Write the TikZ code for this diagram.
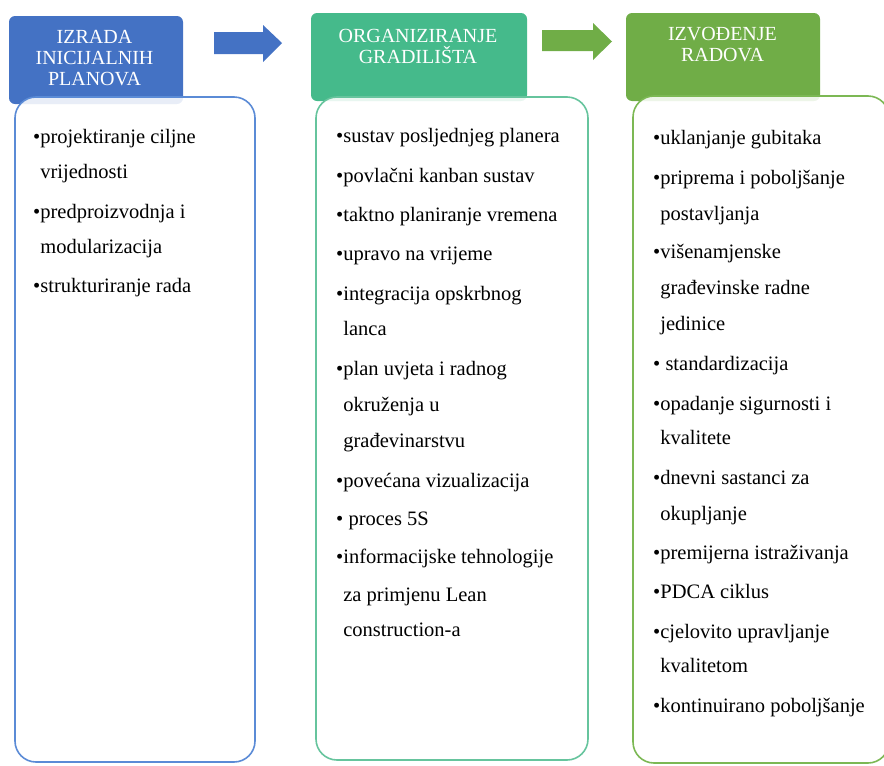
\documentclass[tikz,border=0pt]{standalone}
\usepackage{fontspec}
\setmainfont{Liberation Serif}
\definecolor{hdrblue}{HTML}{4472C4}
\definecolor{hdrteal}{HTML}{45BA8B}
\definecolor{hdrgreen}{HTML}{70AD47}
\definecolor{rimblue}{HTML}{5B8BD6}
\definecolor{rimteal}{HTML}{66C49D}
\definecolor{rimgreen}{HTML}{7CB854}
\tikzset{
  header/.style={rectangle, rounded corners=6pt, inner sep=0pt, draw=none},
  headtext/.style={anchor=north, inner sep=0pt, align=center, text=white,
    font=\fontsize{20}{21}\selectfont},
  bodybox/.style={rectangle, rounded corners=21pt, inner sep=0pt, fill=white,
    fill opacity=0.88, line width=1.6pt},
  item/.style={anchor=base west, inner sep=0pt, text=black,
    font=\fontsize{20.5}{24}\selectfont},
}
\begin{document}
\begin{tikzpicture}[x=1pt,y=-1pt]
\useasboundingbox (0,0) rectangle (884,766);
\clip (0,0) rectangle (884,766);

% phase headers
\node[header, fill=hdrblue, minimum width=174pt, minimum height=88pt] (h1) at (96,60) {};
\node[header, fill=hdrteal, minimum width=216pt, minimum height=88pt] (h2) at (419,57) {};
\node[header, fill=hdrgreen, minimum width=194pt, minimum height=88pt] (h3) at (723,57) {};

% block arrows between phases
\fill[hdrblue] (214,32) -- (263,32) -- (263,25) -- (282,43) -- (263,62) -- (263,54) -- (214,54) -- cycle;
\fill[hdrgreen] (542,30) -- (593,30) -- (593,23) -- (612,41.5) -- (593,60) -- (593,51) -- (542,51) -- cycle;

% content panels, laid over the lower edge of the headers
\node[bodybox, draw=rimblue, minimum width=240pt, minimum height=665pt] (p1) at (135,429.5) {};
\node[bodybox, draw=rimteal, minimum width=272pt, minimum height=663pt] (p2) at (452,428.5) {};
\node[bodybox, draw=rimgreen, minimum width=256pt, minimum height=667pt] (p3) at (761,429.5) {};

% header titles
\node[headtext] (t1) at (94.5,29.8) {IZRADA\\INICIJALNIH\\PLANOVA};
\node[headtext] (t2) at (418,28.8) {ORGANIZIRANJE\\GRADILIŠTA};
\node[headtext] (t3) at (722.5,27) {IZVOĐENJE\\RADOVA};

% first panel
\node[item] (a1) at (33,143) {•projektiranje ciljne};
\node[item] (a2) at (33,178) {\phantom{•}vrijednosti};
\node[item] (a3) at (33,218) {•predproizvodnja i};
\node[item] (a4) at (33,253) {\phantom{•}modularizacija};
\node[item] (a5) at (33,292) {•strukturiranje rada};

% second panel
\node[item] (b1) at (336,142) {•sustav posljednjeg planera};
\node[item] (b2) at (336,182) {•povlačni kanban sustav};
\node[item] (b3) at (336,221) {•taktno planiranje vremena};
\node[item] (b4) at (336,260) {•upravo na vrijeme};
\node[item] (b5) at (336,300) {•integracija opskrbnog};
\node[item] (b6) at (336,335) {\phantom{•}lanca};
\node[item] (b7) at (336,375) {•plan uvjeta i radnog};
\node[item] (b8) at (336,411) {\phantom{•}okruženja u};
\node[item] (b9) at (336,447) {\phantom{•}građevinarstvu};
\node[item] (b10) at (336,487) {•povećana vizualizacija};
\node[item] (b11) at (336,525) {• proces 5S};
\node[item] (b12) at (336,563) {•informacijske tehnologije};
\node[item] (b13) at (336,601) {\phantom{•}za primjenu Lean};
\node[item] (b14) at (336,636) {\phantom{•}construction-a};

% third panel
\node[item] (c1) at (653,144) {•uklanjanje gubitaka};
\node[item] (c2) at (653,184) {•priprema i poboljšanje};
\node[item] (c3) at (653,220) {\phantom{•}postavljanja};
\node[item] (c4) at (653,258) {•višenamjenske};
\node[item] (c5) at (653,294) {\phantom{•}građevinske radne};
\node[item] (c6) at (653,330) {\phantom{•}jedinice};
\node[item] (c7) at (653,370) {• standardizacija};
\node[item] (c8) at (653,410) {•opadanje sigurnosti i};
\node[item] (c9) at (653,444) {\phantom{•}kvalitete};
\node[item] (c10) at (653,484) {•dnevni sastanci za};
\node[item] (c11) at (653,520) {\phantom{•}okupljanje};
\node[item] (c12) at (653,559) {•premijerna istraživanja};
\node[item] (c13) at (653,598) {•PDCA ciklus};
\node[item] (c14) at (653,638) {•cjelovito upravljanje};
\node[item] (c15) at (653,672) {\phantom{•}kvalitetom};
\node[item] (c16) at (653,712) {•kontinuirano poboljšanje};
\end{tikzpicture}
\end{document}
